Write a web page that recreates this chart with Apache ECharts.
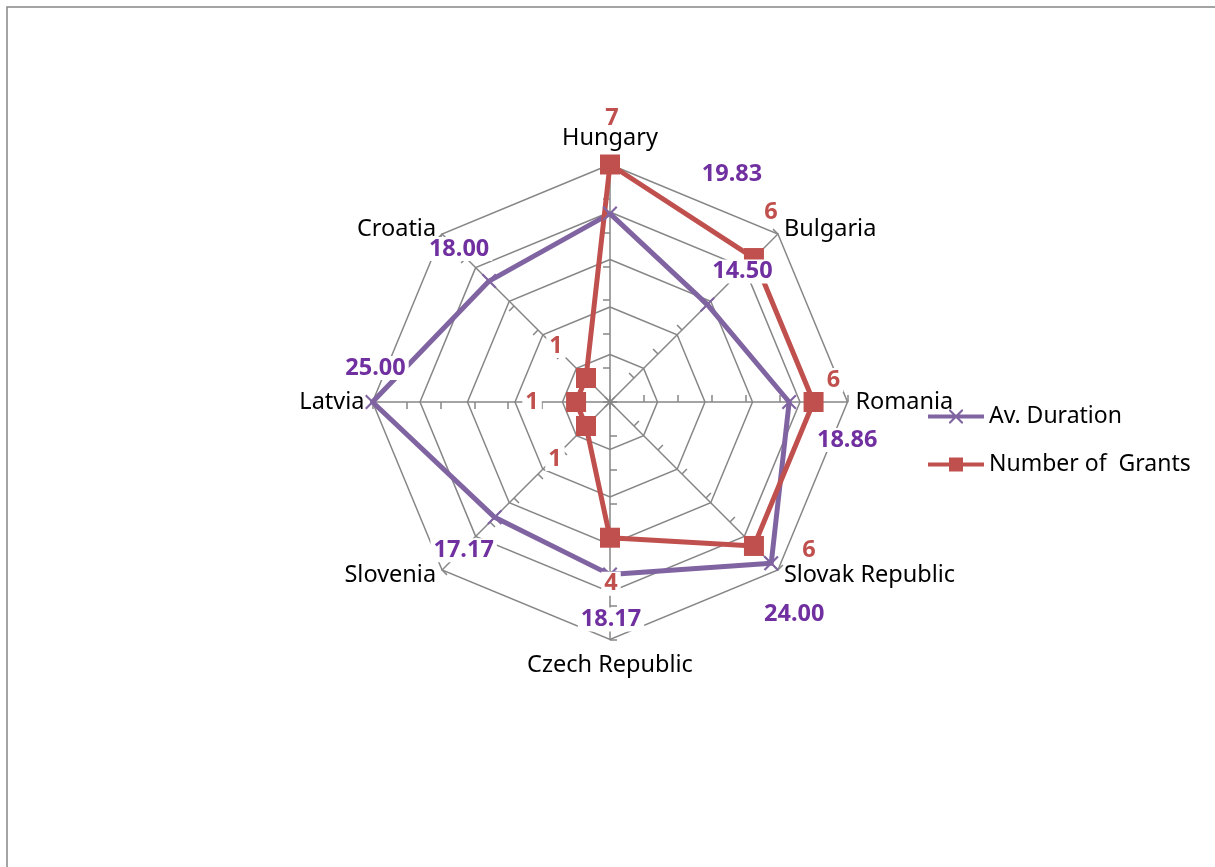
<!DOCTYPE html>
<html>
<head>
<meta charset="utf-8">
<script src="https://cdn.jsdelivr.net/npm/echarts@6/dist/echarts.min.js"></script>
<style>
  html, body { margin: 0; padding: 0; background: #fff; }
  #radarc { width: 1215px; height: 867px; }
</style>
</head>
<body>
<div id="radarc"></div>
<script>
// data, clockwise from the top
var categories = ['Hungary', 'Bulgaria', 'Romania', 'Slovak Republic', 'Czech Republic', 'Slovenia', 'Latvia', 'Croatia'];
var avDuration = [19.83, 14.50, 18.86, 24.00, 18.17, 17.17, 25.00, 18.00];
var numGrants = [7, 6, 6, 6, 4, 1, 1, 1];
var durationMax = 25, durationSplit = 5;
var grantsMax = 7, grantsSplit = 7;
var seriesNames = ['Av. Duration', 'Number of  Grants'];

var FONT = '"Noto Sans", Lato, sans-serif';
var GRID = '#868686';
var PURPLE = '#8064A2', RED = '#C0504D';
var PURPLE_TXT = '#7030A0', RED_TXT = '#C0504D';
var CENTER = [610, 402], RADIUS = 237.5;

// echarts radar goes counterclockwise, so reorder
var radarOrder = [0, 7, 6, 5, 4, 3, 2, 1];

// label offsets (px) for each point, same order as categories
var durOffsets = [[122, -39], [35, -33], [58, 38], [23, 51], [1, 45], [-31, 33], [3, -34], [-30, -32]];
var grOffsets = [[2, -46], [17, -46], [20, -22], [55, 4], [1, 46], [-31, 33], [-44, 0], [-30, -32]];

var xMark = 'path://M21,0L22.5,0L35,12.5L35,14L33.5,14L21,1.5ZM35,0L35,1.5L22.5,14L21,14L21,12.5L33.5,0ZM0,5L56,5L56,9L0,9Z';
var sqMark = 'path://M0,5L21,5L21,0L35,0L35,5L56,5L56,9L35,9L35,14L21,14L21,9L0,9Z';
var xSymbol = 'path://M0,1L1,0L5,4L9,0L10,1L6,5L10,9L9,10L5,6L1,10L0,9L4,5Z';

function labelPoints(vals, offsets) {
    return vals.map(function (v, i) {
        return { value: [v, i], label: { offset: offsets[i] } };
    });
}

function labelSeries(name, polarIndex, vals, offsets, color, fmt) {
    return {
        name: name,
        type: 'scatter',
        coordinateSystem: 'polar',
        polarIndex: polarIndex,
        silent: true,
        z: 5,
        symbolSize: 1,
        itemStyle: { color: 'rgba(0,0,0,0)', opacity: 1 },
        label: {
            show: true,
            position: 'inside',
            color: color,
            fontWeight: 'bold',
            fontSize: 23.5,
            fontFamily: FONT,
            textBorderWidth: 0,
            backgroundColor: '#fff',
            padding: [0, 3],
            formatter: fmt
        },
        data: labelPoints(vals, offsets)
    };
}

var nameText = { color: '#000', fontSize: 23.5, fontFamily: FONT };

var chart = echarts.init(document.getElementById('radarc'));

var option = {
    animation: false,
    backgroundColor: '#fff',
    textStyle: { fontFamily: FONT },
    graphic: [{
        type: 'rect',
        shape: { x: 7, y: 7, width: 1240, height: 900 },
        style: { fill: 'none', stroke: GRID, lineWidth: 1.5 },
        silent: true
    }],
    legend: {
        orient: 'vertical',
        left: 923,
        top: 400,
        itemWidth: 56,
        itemHeight: 14,
        itemGap: 25,
        textStyle: { fontSize: 23, color: '#000', fontFamily: FONT },
        data: [
            { name: seriesNames[0], icon: xMark },
            { name: seriesNames[1], icon: sqMark }
        ]
    },
    radar: [{
        center: CENTER,
        radius: RADIUS,
        startAngle: 90,
        splitNumber: durationSplit,
        indicator: radarOrder.map(function (i) {
            return { name: categories[i], min: 0, max: durationMax };
        }),
        nameGap: 7,
        axisName: {
            color: '#000',
            fontSize: 23.5,
            fontFamily: FONT,
            backgroundColor: '#fff',
            padding: [0, 0],
            formatter: function (name) {
                var k = categories.indexOf(name);
                if (k === 0) return '{t|' + name + '}';
                if (k === categories.length / 2) return '{b|' + name + '}';
                return '{n|' + name + '}';
            },
            rich: {
                t: Object.assign({ padding: [0, 2, 7, 2] }, nameText),
                b: Object.assign({ padding: [7, 2, 0, 2] }, nameText),
                n: Object.assign({ padding: [0, 1] }, nameText)
            }
        },
        axisLine: { lineStyle: { color: GRID, width: 1.5 } },
        splitLine: { lineStyle: { color: GRID, width: 1.5 } },
        splitArea: { show: false }
    }, {
        center: CENTER,
        radius: RADIUS,
        startAngle: 90,
        splitNumber: grantsSplit,
        indicator: radarOrder.map(function (i) {
            return { name: '', min: 0, max: grantsMax };
        }),
        axisName: { show: false },
        axisLine: { show: false },
        axisTick: { show: true, length: 7, lineStyle: { color: GRID, width: 1.5 } },
        splitLine: { show: false },
        splitArea: { show: false }
    }],
    polar: [
        { center: CENTER, radius: RADIUS },
        { center: CENTER, radius: RADIUS }
    ],
    angleAxis: [
        { polarIndex: 0, type: 'value', min: 0, max: categories.length, startAngle: 90, clockwise: true, show: false },
        { polarIndex: 1, type: 'value', min: 0, max: categories.length, startAngle: 90, clockwise: true, show: false }
    ],
    radiusAxis: [
        { polarIndex: 0, type: 'value', min: 0, max: durationMax, show: false },
        { polarIndex: 1, type: 'value', min: 0, max: grantsMax, show: false }
    ],
    series: [
        {
            type: 'radar',
            radarIndex: 0,
            symbol: xSymbol,
            symbolSize: 15,
            data: [{
                name: seriesNames[0],
                value: radarOrder.map(function (i) { return avDuration[i]; }),
                itemStyle: { color: PURPLE },
                lineStyle: { color: PURPLE, width: 5 }
            }]
        },
        {
            type: 'radar',
            radarIndex: 1,
            symbol: 'rect',
            symbolSize: 20,
            data: [{
                name: seriesNames[1],
                value: radarOrder.map(function (i) { return numGrants[i]; }),
                itemStyle: { color: RED },
                lineStyle: { color: RED, width: 5 }
            }]
        },
        labelSeries('durLabels', 0, avDuration, durOffsets, PURPLE_TXT,
            function (p) { return p.value[0].toFixed(2); }),
        labelSeries('grLabels', 1, numGrants, grOffsets, RED_TXT,
            function (p) { return String(p.value[0]); })
    ]
};

chart.setOption(option);
</script>
</body>
</html>
